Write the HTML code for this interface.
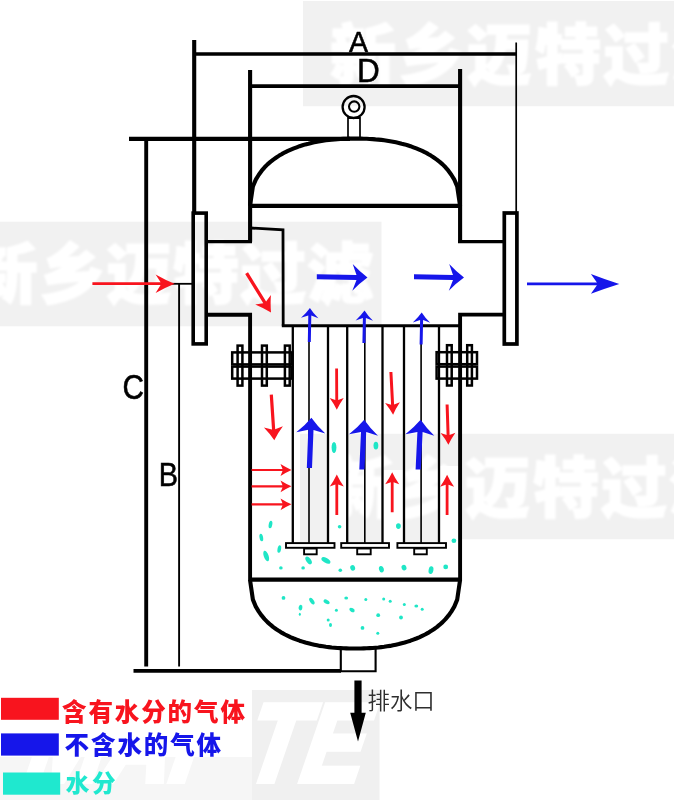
<!DOCTYPE html>
<html lang="zh">
<head>
<meta charset="utf-8">
<title>气液分离器结构示意图</title>
<style>
html,body{margin:0;padding:0;background:#fff;}
body{width:674px;height:800px;overflow:hidden;position:relative;font-family:"Liberation Sans","Noto Sans CJK SC",sans-serif;}
svg{position:absolute;left:0;top:0;display:block;will-change:transform;}
.wm{font-family:"Liberation Sans","Noto Sans CJK SC",sans-serif;font-weight:900;font-size:66px;letter-spacing:0.6px;fill:#fff;stroke:#fff;stroke-width:1.6px;stroke-linejoin:round;}
.k{stroke:#000;fill:none;}
.lbl{font-family:"Liberation Sans","Noto Sans CJK SC",sans-serif;fill:#000;}
.lbl .b{stroke:#000;stroke-width:0.55px;}
.leg{font-family:"Liberation Sans","Noto Sans CJK SC",sans-serif;font-weight:900;font-size:24.5px;letter-spacing:1.9px;}
</style>
</head>
<body>
<svg width="674" height="800" viewBox="0 0 674 800">
<rect x="0" y="0" width="674" height="800" fill="#fff"/>

<!-- ===== watermarks ===== -->
<defs><filter id="soft" x="-5%" y="-20%" width="110%" height="140%"><feGaussianBlur stdDeviation="0.8"/></filter></defs>
<g id="watermarks">
  <rect x="303" y="1" width="371" height="105.2" fill="#f1f1f1"/>
  <text class="wm" filter="url(#soft)" x="330" y="78.8" style="letter-spacing:2.3px">新乡迈特过滤</text>

  <rect x="0" y="221.7" width="381.5" height="104.6" fill="#f1f1f1"/>
  <text class="wm" filter="url(#soft)" x="-28.2" y="297.6" style="letter-spacing:1.1px">新乡迈特过滤</text>

  <rect x="300" y="433.8" width="374" height="105.4" fill="#f1f1f1"/>
  <text class="wm" filter="url(#soft)" x="328.6" y="511.6" style="letter-spacing:2.1px">新乡迈特过滤</text>

    <rect x="300" y="539" width="158" height="3.2" fill="#f1f1f1"/>
  <rect x="329" y="433" width="17.6" height="110" fill="#fff"/>
  <rect x="383.6" y="470" width="19.6" height="73" fill="#fff"/>
  <rect x="440" y="466" width="18.5" height="77" fill="#fff"/>

  <rect x="252" y="690" width="127.5" height="110" fill="#f0f0f0"/>
  <rect x="0" y="757" width="252" height="43" fill="#f6f6f6"/>
  <clipPath id="cpL"><rect x="0" y="757" width="252" height="43"/></clipPath>
  <clipPath id="cpR"><rect x="252" y="690" width="127.5" height="110"/></clipPath>
  <g font-family="'Liberation Sans',sans-serif" font-weight="bold" font-size="110" fill="#fff" stroke="#fff" stroke-width="6" stroke-linejoin="miter">
    <g clip-path="url(#cpL)"><text transform="translate(20,781) skewX(-19) scale(0.84,1)">MAI</text></g>
    <g clip-path="url(#cpR)"><text transform="translate(238,781) skewX(-19) scale(0.84,1)">TE</text></g>
  </g>
</g>

<!-- ===== dimension lines ===== -->
<g id="dims" class="k" stroke-width="4.1">
  <line x1="194.2" y1="40" x2="194.2" y2="213"/>
  <line x1="194.2" y1="54" x2="516" y2="54" stroke-width="3.7"/>
  <line x1="516.2" y1="42.5" x2="516.2" y2="212" stroke-width="1.7"/>
  <line x1="250.1" y1="70" x2="250.1" y2="241.7"/>
  <line x1="250.1" y1="86.1" x2="460.1" y2="86.1" stroke-width="3.8"/>
  <line x1="460.1" y1="69" x2="460.1" y2="241.7"/>
  <line x1="129" y1="138.9" x2="350" y2="138.9"/>
  <line x1="146.2" y1="138.9" x2="146.2" y2="666.5" stroke-width="3.9"/>
  <line x1="179.1" y1="284" x2="179.1" y2="666.5" stroke-width="1.9"/>
  <line x1="172" y1="283.8" x2="193" y2="283.8" stroke-width="1.8"/>
  <line x1="133.5" y1="670.9" x2="341" y2="670.9" stroke-width="3.8"/>
</g>

<!-- ===== vessel ===== -->
<g id="vessel" class="k" stroke-width="4.1" stroke-linejoin="miter">
  <!-- top dome -->
  <path d="M250.0,205.9 L252.9,186.4 L255.8,179.6 L258.8,174.7 L261.7,170.7 L264.6,167.3 L267.5,164.4 L270.4,161.9 L273.3,159.6 L276.3,157.5 L279.2,155.6 L282.1,153.9 L285.0,152.3 L287.9,150.9 L290.9,149.6 L293.8,148.4 L296.7,147.3 L299.6,146.2 L302.5,145.3 L305.4,144.4 L308.4,143.7 L311.3,142.9 L314.2,142.3 L317.1,141.7 L320.0,141.2 L323.0,140.7 L325.9,140.3 L328.8,139.9 L331.7,139.6 L334.6,139.4 L337.5,139.1 L340.5,139.0 L343.4,138.8 L346.3,138.7 L349.2,138.6 L352.1,138.6 L355.1,138.6 L358.0,138.6 L360.9,138.6 L363.8,138.7 L366.7,138.8 L369.6,139.0 L372.6,139.1 L375.5,139.4 L378.4,139.6 L381.3,139.9 L384.2,140.3 L387.1,140.7 L390.1,141.2 L393.0,141.7 L395.9,142.3 L398.8,142.9 L401.7,143.7 L404.7,144.4 L407.6,145.3 L410.5,146.2 L413.4,147.3 L416.3,148.4 L419.2,149.6 L422.2,150.9 L425.1,152.3 L428.0,153.9 L430.9,155.6 L433.8,157.5 L436.8,159.6 L439.7,161.9 L442.6,164.4 L445.5,167.3 L448.4,170.7 L451.3,174.7 L454.3,179.6 L457.2,186.4 L460.1,205.9" stroke-linejoin="round"/>
  <line x1="250.1" y1="205.9" x2="460.1" y2="205.9"/>
  <!-- lifting eye -->
  <circle cx="353.6" cy="107" r="11" stroke-width="2.3"/>
  <circle cx="354.2" cy="106.6" r="5.2" stroke-width="2.1"/>
  <path d="M348,117 V137.5 M360,117 V137.5" stroke-width="1.7"/>
  <path d="M348,118 H360" stroke-width="2"/>
  <!-- left nozzle -->
  <path d="M252,241.7 H206" stroke-width="3.3"/>
  <path d="M206,314.8 H250.1 V580" stroke-width="3.9"/>
  <rect x="193.2" y="213.1" width="13" height="130.8" stroke-width="3.6"/>
  <!-- right nozzle -->
  <path d="M458,241.7 H504" stroke-width="3.3"/>
  <path d="M504,314.6 H460.1 V580" stroke-width="3.9"/>
  <rect x="504.3" y="213" width="12.6" height="131" stroke-width="3.7"/>
  <!-- divider + bottom head -->
  <line x1="250.1" y1="579.7" x2="460.1" y2="579.7" stroke-width="4.3"/>
  <path d="M250.0,579.7 L252.9,599.6 L255.8,606.6 L258.8,611.6 L261.7,615.7 L264.6,619.1 L267.5,622.1 L270.4,624.7 L273.3,627.1 L276.3,629.2 L279.2,631.1 L282.1,632.9 L285.0,634.5 L287.9,635.9 L290.9,637.3 L293.8,638.5 L296.7,639.6 L299.6,640.7 L302.5,641.6 L305.4,642.5 L308.4,643.3 L311.3,644.1 L314.2,644.7 L317.1,645.3 L320.0,645.9 L323.0,646.3 L325.9,646.8 L328.8,647.1 L331.7,647.5 L334.6,647.7 L337.5,648.0 L340.5,648.1 L343.4,648.3 L346.3,648.4 L349.2,648.5 L352.1,648.5 L355.1,648.5 L358.0,648.5 L360.9,648.5 L363.8,648.4 L366.7,648.3 L369.6,648.1 L372.6,648.0 L375.5,647.7 L378.4,647.5 L381.3,647.1 L384.2,646.8 L387.1,646.3 L390.1,645.9 L393.0,645.3 L395.9,644.7 L398.8,644.1 L401.7,643.3 L404.7,642.5 L407.6,641.6 L410.5,640.7 L413.4,639.6 L416.3,638.5 L419.2,637.3 L422.2,635.9 L425.1,634.5 L428.0,632.9 L430.9,631.1 L433.8,629.2 L436.8,627.1 L439.7,624.7 L442.6,622.1 L445.5,619.1 L448.4,615.7 L451.3,611.6 L454.3,606.6 L457.2,599.6 L460.1,579.7" stroke-linejoin="round"/>
  <!-- drain -->
  <path d="M340.8,647 V671.2 H375.6 V647" stroke-width="2.1"/>
</g>

<!-- ===== internals ===== -->
<g id="internals" class="k" stroke-width="2">
  <path d="M251,228 L283,229.8 L283.2,325.8" stroke-width="2.8"/>
  <path d="M281.8,325.7 H460" stroke-width="3.1"/>
  <!-- filter tubes -->
  <path d="M292.8,326 V543 M328,326 V543 M347.2,326 V543 M382.5,326 V543 M404,326 V543 M439,326 V543" stroke-width="2.3"/>
  <path d="M309,326 V544 M364.8,326 V544 M421.1,326 V544" stroke-width="1.6"/>
  <rect x="286" y="543.1" width="48.5" height="4.7" stroke-width="1.9" fill="#fff"/>
  <rect x="341.2" y="543.1" width="47.8" height="4.7" stroke-width="1.9" fill="#fff"/>
  <rect x="397.4" y="543.1" width="48.6" height="4.7" stroke-width="1.9" fill="#fff"/>
  <rect x="304.1" y="548.5" width="12.6" height="5.8" stroke-width="1.9" fill="#fff"/>
  <rect x="357.2" y="548.5" width="13.5" height="5.8" stroke-width="1.9" fill="#fff"/>
  <rect x="414.2" y="548.5" width="12.6" height="5.8" stroke-width="1.9" fill="#fff"/>
</g>

<!-- ===== bolted flanges ===== -->
<g id="bolts" class="k" stroke-width="2.5">
  <rect x="232.2" y="352.4" width="60" height="12"/>
  <rect x="232.2" y="366.6" width="60" height="12"/>
  <rect x="237.6" y="345.6" width="4.8" height="40"/>
  <rect x="262" y="345.6" width="4.8" height="40"/>
  <rect x="284.9" y="345.6" width="4.8" height="40"/>
  <rect x="436.6" y="352.2" width="40.4" height="12"/>
  <rect x="436.6" y="366.6" width="40.4" height="12"/>
  <rect x="447" y="345.2" width="4.7" height="40.3"/>
  <rect x="467.2" y="345.2" width="4.7" height="40.3"/>
</g>

<!-- ===== flow arrows ===== -->
<g id="arrows-red">
<path d="M92.4,285.1 L160.6,285.1 L155.6,292.9 Q165.1,287.6 174.6,283.7 Q165.1,279.8 155.6,274.4 L160.6,282.3 L92.4,282.3 Z" fill="#f8141e"/>
<path d="M245.2,274.1 L263.3,303.2 L255.2,304.6 Q263.7,308.2 271.0,312.5 Q270.3,304.1 270.9,294.9 L266.1,301.4 L248.0,272.3 Z" fill="#f8141e"/>
<path d="M269.7,394.7 L272.0,429.4 L263.9,427.5 Q270.1,433.8 274.3,440.3 Q277.6,433.3 282.9,426.2 L275.2,429.2 L272.9,394.5 Z" fill="#f8141e"/>
<path d="M335.2,368.4 L335.3,399.9 L329.7,397.9 Q334.0,403.8 336.8,409.7 Q339.6,403.8 343.7,397.9 L338.2,399.9 L338.0,368.4 Z" fill="#f8141e"/>
<path d="M389.4,372.1 L391.1,404.8 L385.1,403.1 Q389.8,408.9 393.1,414.7 Q395.7,408.6 399.9,402.3 L394.1,404.6 L392.4,371.9 Z" fill="#f8141e"/>
<path d="M445.6,404.4 L446.6,435.0 L440.6,433.1 Q445.3,438.9 448.4,444.7 Q451.2,438.7 455.4,432.7 L449.6,434.9 L448.6,404.4 Z" fill="#f8141e"/>
<path d="M338.2,515.0 L338.2,484.6 L343.8,486.6 Q339.6,480.6 336.8,474.6 Q334.0,480.6 329.8,486.6 L335.4,484.6 L335.4,515.0 Z" fill="#f8141e"/>
<path d="M393.6,512.2 L393.6,482.3 L399.2,484.3 Q395.0,478.3 392.2,472.3 Q389.4,478.3 385.2,484.3 L390.8,482.3 L390.8,512.2 Z" fill="#f8141e"/>
<path d="M448.5,515.0 L448.5,484.7 L454.1,486.7 Q449.9,480.7 447.1,474.7 Q444.3,480.7 440.1,486.7 L445.7,484.7 L445.7,515.0 Z" fill="#f8141e"/>
<path d="M251.6,471.1 L282.5,471.1 L280.5,475.9 Q286.0,472.5 291.5,470.0 Q286.0,467.5 280.5,464.1 L282.5,468.9 L251.6,468.9 Z" fill="#f8141e"/>
<path d="M251.6,487.4 L282.5,487.4 L280.5,492.2 Q286.0,488.8 291.5,486.3 Q286.0,483.8 280.5,480.4 L282.5,485.2 L251.6,485.2 Z" fill="#f8141e"/>
<path d="M251.6,505.4 L282.5,505.4 L280.5,510.2 Q286.0,506.8 291.5,504.3 Q286.0,501.8 280.5,498.4 L282.5,503.2 L251.6,503.2 Z" fill="#f8141e"/>
</g>
<g id="arrows-blue">
<path d="M316.8,279.3 L356.5,279.9 L352.3,290.7 Q359.9,283.1 367.5,277.6 Q360.1,271.9 352.7,264.0 L356.5,274.9 L316.8,274.3 Z" fill="#1616ea"/>
<path d="M414.0,279.3 L453.0,279.9 L448.8,290.7 Q456.4,283.1 464.0,277.6 Q456.6,271.9 449.2,264.0 L453.0,274.9 L414.0,274.3 Z" fill="#1616ea"/>
<path d="M310.8,342.0 L311.3,315.5 L318.4,318.2 Q313.1,313.1 309.9,308.0 Q306.5,312.9 301.0,317.8 L308.3,315.5 L307.8,342.0 Z" fill="#1616ea"/>
<path d="M365.4,343.0 L365.9,318.1 L373.0,320.8 Q367.7,315.7 364.5,310.6 Q361.1,315.5 355.6,320.4 L362.9,318.1 L362.4,343.0 Z" fill="#1616ea"/>
<path d="M422.6,344.4 L423.1,320.1 L430.2,322.8 Q424.9,317.7 421.7,312.6 Q418.3,317.5 412.8,322.4 L420.1,320.1 L419.6,344.4 Z" fill="#1616ea"/>
<path d="M312.0,468.1 L313.5,430.0 L325.3,433.5 Q316.9,425.5 311.4,417.7 Q305.3,425.1 296.3,432.3 L308.3,429.8 L306.8,467.9 Z" fill="#1616ea"/>
<path d="M364.5,469.6 L366.2,432.1 L378.0,435.7 Q369.6,427.7 364.2,419.8 Q358.1,427.1 349.0,434.3 L361.0,431.9 L359.3,469.4 Z" fill="#1616ea"/>
<path d="M420.8,469.6 L422.6,432.1 L434.3,435.7 Q426.0,427.7 420.6,419.8 Q414.4,427.1 405.4,434.3 L417.4,431.9 L415.6,469.4 Z" fill="#1616ea"/>
<path d="M527.0,285.2 L596.9,285.2 L590.9,293.8 Q605.1,288.3 619.3,283.9 Q605.1,279.5 590.9,274.0 L596.9,282.5 L527.0,282.5 Z" fill="#1616ea"/>
</g>
<g id="arrow-drain">
<path d="M354.4,680.5 L354.4,712.7 L350.2,712.7 L358.0,741.4 L365.8,712.7 L361.6,712.7 L361.6,680.5 Z" fill="#000"/>
</g>
<!-- ===== water droplets ===== -->
<g id="drops" fill="#1fe6c6">
<ellipse cx="270.5" cy="524.5" rx="1.8" ry="3.9" transform="rotate(10 270.5 524.5)"/>
<ellipse cx="261.3" cy="537.5" rx="1.8" ry="3.9" transform="rotate(-10 261.3 537.5)"/>
<ellipse cx="279.3" cy="549.0" rx="1.8" ry="3.9" transform="rotate(10 279.3 549.0)"/>
<ellipse cx="266.2" cy="556.0" rx="2.4" ry="5.5" transform="rotate(-20 266.2 556.0)"/>
<ellipse cx="280.9" cy="567.9" rx="1.8" ry="1.7"/>
<ellipse cx="303.1" cy="567.9" rx="1.8" ry="1.7"/>
<ellipse cx="308.6" cy="560.4" rx="2.4" ry="4.4" transform="rotate(-35 308.6 560.4)"/>
<ellipse cx="325.9" cy="560.4" rx="2.4" ry="5.0" transform="rotate(-60 325.9 560.4)"/>
<ellipse cx="339.6" cy="526.8" rx="1.8" ry="1.7"/>
<ellipse cx="340.3" cy="570.2" rx="1.8" ry="1.7"/>
<ellipse cx="352.7" cy="567.9" rx="2.4" ry="2.8" transform="rotate(-20 352.7 567.9)"/>
<ellipse cx="381.4" cy="569.2" rx="2.4" ry="3.3" transform="rotate(-15 381.4 569.2)"/>
<ellipse cx="398.4" cy="526.1" rx="2.4" ry="2.8"/>
<ellipse cx="404.0" cy="567.6" rx="2.4" ry="2.8" transform="rotate(-20 404.0 567.6)"/>
<ellipse cx="431.0" cy="570.2" rx="2.4" ry="3.9" transform="rotate(10 431.0 570.2)"/>
<ellipse cx="445.7" cy="566.9" rx="2.4" ry="2.3"/>
<ellipse cx="453.9" cy="540.8" rx="2.4" ry="2.3"/>
<ellipse cx="334.0" cy="447.5" rx="2.4" ry="5.5"/>
<ellipse cx="375.9" cy="445.6" rx="2.4" ry="3.9"/>
<ellipse cx="283.5" cy="597.9" rx="1.9" ry="1.9"/>
<ellipse cx="300.5" cy="607.7" rx="1.9" ry="2.9" transform="rotate(10 300.5 607.7)"/>
<ellipse cx="299.8" cy="614.2" rx="1.0" ry="1.5"/>
<ellipse cx="311.9" cy="601.2" rx="1.9" ry="3.8" transform="rotate(-35 311.9 601.2)"/>
<ellipse cx="326.6" cy="601.8" rx="1.9" ry="3.3" transform="rotate(-60 326.6 601.8)"/>
<ellipse cx="336.4" cy="610.3" rx="1.5" ry="1.5"/>
<ellipse cx="346.2" cy="597.9" rx="1.9" ry="1.5"/>
<ellipse cx="352.0" cy="610.0" rx="1.9" ry="2.9" transform="rotate(-60 352.0 610.0)"/>
<ellipse cx="328.2" cy="620.1" rx="1.5" ry="1.5"/>
<ellipse cx="330.5" cy="625.0" rx="1.5" ry="1.9"/>
<ellipse cx="365.8" cy="599.5" rx="1.5" ry="1.5"/>
<ellipse cx="362.5" cy="627.9" rx="1.9" ry="1.9"/>
<ellipse cx="378.2" cy="615.2" rx="1.9" ry="1.9"/>
<ellipse cx="377.8" cy="633.2" rx="1.5" ry="1.5"/>
<ellipse cx="383.7" cy="598.9" rx="1.5" ry="1.5"/>
<ellipse cx="390.2" cy="601.2" rx="1.5" ry="1.5"/>
<ellipse cx="401.0" cy="617.5" rx="1.9" ry="1.9"/>
<ellipse cx="404.3" cy="604.4" rx="1.5" ry="1.5"/>
<ellipse cx="416.3" cy="606.1" rx="1.9" ry="1.5"/>
<ellipse cx="422.2" cy="609.3" rx="1.5" ry="1.5"/>
</g>

<!-- ===== labels ===== -->
<g id="labels" class="lbl">
  <text class="b" transform="translate(349,52.2) scale(0.95,1)" font-size="30.1">A</text>
  <text class="b" transform="translate(357,82.1) scale(0.96,1)" font-size="32.8">D</text>
  <text class="b" transform="translate(122.6,398.8) scale(0.85,1)" font-size="35">C</text>
  <text class="b" transform="translate(158.7,485.5) scale(0.89,1)" font-size="32.4">B</text>
  <text x="367.6" y="709" font-size="22.4" font-weight="350" fill="#2e2e2e">排水口</text>
</g>

<!-- ===== legend ===== -->
<g id="legend">
  <rect x="1" y="697.8" width="57.8" height="22" fill="#f8141e"/>
  <rect x="1" y="733.4" width="57.8" height="22.2" fill="#1616ea"/>
  <rect x="3" y="772.5" width="57.2" height="22.2" fill="#1fe8cf"/>
  <text class="leg" x="62" y="720.8" fill="#f8141e">含有水分的气体</text>
  <text class="leg" x="64.6" y="753.9" fill="#1616ea">不含水的气体</text>
  <text class="leg" x="65.7" y="792.2" fill="#1fe8cf" style="font-size:23.6px;letter-spacing:2.6px">水分</text>
</g>
</svg>
</body>
</html>
